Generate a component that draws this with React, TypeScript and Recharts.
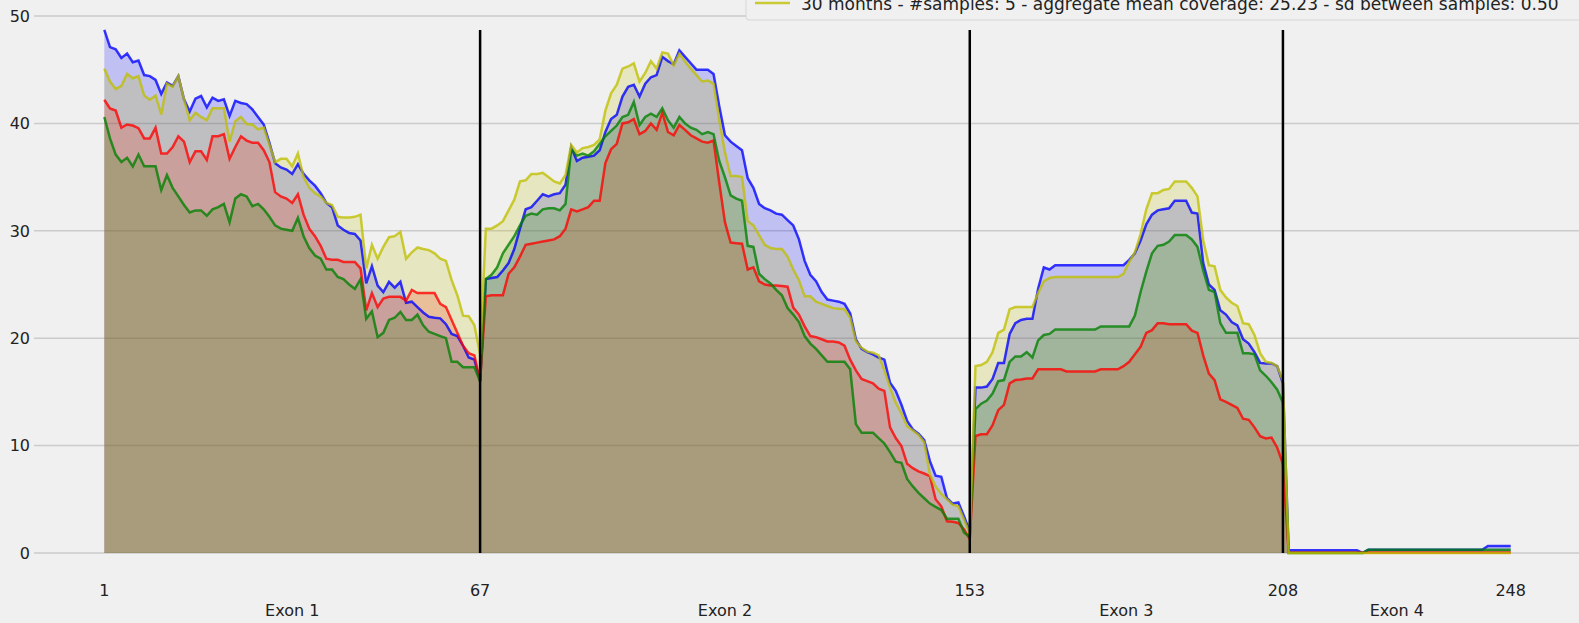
import React from "react";
import {
  Area,
  CartesianGrid,
  ComposedChart,
  Line,
  ReferenceLine,
  XAxis,
  YAxis,
} from "recharts";

// exon layout along the transcript
const exonBounds = [1, 67, 153, 208, 248];
const exonNames = ["Exon 1", "Exon 2", "Exon 3", "Exon 4"];
const yTicks = [0, 10, 20, 30, 40, 50];

const legendLabel =
  "30 months - #samples: 5 - aggregate mean coverage: 25.23 - sd between samples: 0.50";

// ---- blue ----
const blueExon1 = [
  48.7, 47.1, 46.9, 46.1, 46.5, 45.7, 45.85, 44.5, 44.4, 44.05,
  42.75, 43.8, 43.5, 44.4, 42.25, 41.1, 42.3, 42.55, 41.5, 42.4,
  42.1, 42.25, 40.7, 42.1, 41.9, 41.8, 41.3, 40.6, 39.9, 38.2,
  36.3, 35.9, 35.7, 35.3, 36.2, 35.3, 34.7, 34.2, 33.5, 32.6,
  32.2, 30.5, 30.1, 29.8, 29.7, 29.1, 25.1, 26.7, 24.9, 24.3,
  25.25, 24.7, 25.25, 23.3, 23.4, 22.9, 22.4, 22.0, 21.9, 21.85,
  21.3, 20.4, 20.2, 19.3, 18.2, 18.0, 16.0,
];
const blueExon2 = [
  25.5, 25.6, 25.7, 26.3, 27.0, 28.3, 30.2, 32.0, 32.2, 32.8,
  33.4, 33.2, 33.4, 33.5, 34.3, 37.8, 36.5, 36.8, 36.9, 37.0,
  37.5, 39.2, 40.4, 40.8, 42.5, 43.4, 43.6, 42.5, 43.7, 44.3,
  44.5, 46.2, 45.8, 45.5, 46.8, 46.2, 45.6, 45.0, 45.0, 45.0,
  44.6, 41.6, 38.9, 38.3, 37.9, 37.5, 34.9, 34.0, 32.5, 32.1,
  31.9, 31.6, 31.5, 31.0, 30.5, 29.2, 27.2, 25.9, 25.3, 24.3,
  23.6, 23.5, 23.4, 23.2, 22.3, 19.9, 19.0, 18.7, 18.5, 18.2,
  18.0, 15.85, 15.1, 13.8, 12.3, 11.5, 11.1, 10.5, 8.55, 7.2,
  7.1, 5.1, 4.6, 4.7, 3.4, 2.0,
];
const blueExon3 = [
  15.4, 15.4, 15.5, 16.2, 17.7, 17.7, 20.4, 21.4, 21.7, 21.8,
  21.8, 24.6, 26.6, 26.4, 26.8, 26.8, 26.8, 26.8, 26.8, 26.8,
  26.8, 26.8, 26.8, 26.8, 26.8, 26.8, 26.8, 27.3, 27.9, 29.1,
  30.6, 31.5, 31.9, 32.0, 32.1, 32.8, 32.8, 32.8, 31.7, 31.6,
  27.0, 25.0, 24.5, 22.6, 22.2, 21.5, 21.2, 19.9, 19.5, 18.7,
  17.7, 17.65, 17.65, 17.4, 15.8,
];
const blueExon4 = [
  0.25, 0.25, 0.25, 0.25, 0.25, 0.25, 0.25, 0.25, 0.25, 0.25,
  0.25, 0.25, 0.25, 0.02, 0.3, 0.3, 0.3, 0.3, 0.3, 0.3,
  0.3, 0.3, 0.3, 0.3, 0.3, 0.3, 0.3, 0.3, 0.3, 0.3,
  0.3, 0.3, 0.3, 0.3, 0.3, 0.65, 0.65, 0.65, 0.65, 0.65,
];

// ---- red ----
const redExon1 = [
  42.2, 41.4, 41.2, 39.6, 39.9, 39.8, 39.55, 38.6, 38.6, 39.6,
  37.2, 37.2, 37.8, 38.8, 38.3, 36.4, 37.4, 37.4, 36.6, 38.8,
  38.8, 39.0, 36.7, 37.8, 38.8, 38.4, 38.2, 38.2, 37.5, 36.4,
  33.6, 33.2, 33.0, 32.6, 33.4, 31.5, 30.2, 29.5, 28.6, 27.4,
  27.3, 27.3, 27.1, 27.1, 27.1, 26.5, 22.6, 24.2, 22.9, 23.7,
  23.85, 23.85, 23.85, 23.5, 24.5, 24.2, 24.2, 24.2, 24.2, 23.2,
  22.9, 21.7, 20.5, 19.3, 18.6, 18.4, 16.0,
];
const redExon2 = [
  23.9, 24.0, 24.0, 24.0, 26.0, 26.6, 27.6, 28.7, 28.8, 28.9,
  29.0, 29.1, 29.2, 29.5, 30.2, 32.0, 31.8, 32.0, 32.2, 32.8,
  32.8, 36.3, 37.6, 38.1, 40.0, 40.1, 40.4, 39.0, 39.3, 40.0,
  39.4, 41.0, 39.2, 38.9, 39.85, 39.4, 38.9, 38.6, 38.3, 38.2,
  38.4, 34.5, 30.8, 28.9, 28.85, 28.8, 26.4, 26.6, 25.3, 25.0,
  24.9, 24.9, 24.85, 24.8, 22.85, 22.2, 21.1, 20.2, 20.1, 19.9,
  19.7, 19.7, 19.6, 19.3, 18.0, 17.0, 16.2, 16.0, 15.8, 15.3,
  15.1, 11.7, 10.7, 9.95, 8.3, 7.9, 7.6, 7.4, 7.15, 5.0,
  4.35, 2.95, 2.9, 2.8, 2.2, 1.3,
];
const redExon3 = [
  10.9, 11.06, 11.06, 11.9, 13.3, 13.8, 15.8, 16.1, 16.15, 16.25,
  16.25, 17.1, 17.1, 17.1, 17.1, 17.1, 16.9, 16.9, 16.9, 16.9,
  16.9, 16.9, 17.1, 17.1, 17.1, 17.1, 17.4, 17.8, 18.5, 19.2,
  20.5, 20.75, 21.4, 21.4, 21.3, 21.3, 21.3, 21.3, 20.7, 20.5,
  18.4, 16.7, 16.1, 14.3, 14.07, 13.8, 13.5, 12.5, 12.4, 11.7,
  10.87, 10.66, 10.75, 9.8, 8.3,
];
const redExon4 = [
  0.05, 0.05, 0.05, 0.05, 0.05, 0.05, 0.05, 0.05, 0.05, 0.05,
  0.05, 0.05, 0.05, 0.05, 0.05, 0.05, 0.05, 0.05, 0.05, 0.05,
  0.05, 0.05, 0.05, 0.05, 0.05, 0.05, 0.05, 0.05, 0.05, 0.05,
  0.05, 0.05, 0.05, 0.05, 0.05, 0.05, 0.05, 0.05, 0.05, 0.05,
];

// ---- green ----
const greenExon1 = [
  40.6, 38.6, 37.1, 36.4, 36.8, 36.0, 37.1, 36.0, 36.0, 36.0,
  33.8, 35.2, 34.0, 33.2, 32.4, 31.7, 31.9, 31.9, 31.4, 32.0,
  32.2, 32.5, 30.8, 33.0, 33.4, 33.2, 32.3, 32.5, 32.0, 31.3,
  30.5, 30.2, 30.1, 30.0, 31.2, 29.5, 28.4, 27.7, 27.4, 26.4,
  26.4, 25.7, 25.5, 25.0, 24.6, 25.5, 21.8, 22.5, 20.1, 20.5,
  21.7, 21.9, 22.45, 21.7, 21.7, 22.2, 21.2, 20.6, 20.4, 20.2,
  20.0, 17.8, 17.8, 17.3, 17.3, 17.3, 16.0,
];
const greenExon2 = [
  25.5, 25.9, 26.6, 27.9, 28.7, 29.5, 30.5, 31.4, 31.6, 31.5,
  32.0, 32.1, 32.1, 31.9, 32.5, 37.6, 37.0, 37.2, 37.0, 37.4,
  38.1, 38.8, 39.3, 39.8, 40.6, 40.8, 42.0, 39.85, 40.6, 40.9,
  40.6, 41.4, 40.3, 39.6, 40.6, 40.0, 39.6, 39.4, 39.0, 39.2,
  39.0, 36.5, 35.0, 33.3, 33.0, 32.8, 28.6, 28.5, 26.0, 25.5,
  25.1, 24.5, 24.0, 22.8, 22.2, 21.5, 20.2, 19.5, 19.0, 18.4,
  17.8, 17.8, 17.8, 17.8, 17.1, 12.0, 11.2, 11.2, 11.2, 10.7,
  10.2, 9.4, 8.5, 8.4, 6.9, 6.2, 5.6, 5.1, 4.6, 4.3,
  4.0, 3.2, 3.2, 3.2, 1.9, 1.5,
];
const greenExon3 = [
  13.4, 13.9, 14.2, 14.85, 16.0, 16.1, 17.8, 18.3, 18.3, 18.7,
  18.2, 19.8, 20.3, 20.4, 20.8, 20.8, 20.8, 20.8, 20.8, 20.8,
  20.8, 20.8, 21.1, 21.1, 21.1, 21.1, 21.1, 21.1, 22.1, 24.3,
  26.2, 27.9, 28.6, 28.7, 29.0, 29.6, 29.6, 29.6, 29.2, 28.5,
  26.3, 24.5, 24.3, 21.4, 20.5, 20.5, 20.5, 18.6, 18.6, 18.5,
  17.0, 16.5, 15.9, 15.2, 14.0,
];
const greenExon4 = [
  0, 0, 0, 0, 0, 0, 0, 0, 0, 0,
  0, 0, 0, 0, 0.3, 0.3, 0.3, 0.3, 0.3, 0.3,
  0.3, 0.3, 0.3, 0.3, 0.3, 0.3, 0.3, 0.3, 0.3, 0.3,
  0.3, 0.3, 0.3, 0.3, 0.3, 0.3, 0.3, 0.3, 0.3, 0.3,
];

// ---- yellow (30 months) ----
const yellowExon1 = [
  45.1, 43.9, 43.2, 43.5, 44.6, 44.2, 44.4, 42.6, 42.2, 42.6,
  40.85, 43.7, 43.4, 44.4, 42.2, 40.3, 41.0, 40.6, 40.3, 41.4,
  41.4, 41.4, 38.3, 40.2, 40.6, 39.95, 39.9, 39.45, 39.6, 38.0,
  36.4, 36.7, 36.7, 36.0, 37.2, 35.0, 34.0, 33.5, 33.2, 32.6,
  32.4, 31.3, 31.25, 31.25, 31.3, 31.5, 26.5, 28.7, 27.4, 28.5,
  29.4, 29.5, 29.9, 27.4, 28.0, 28.45, 28.3, 28.2, 27.9, 27.4,
  27.2, 25.4, 24.0, 22.1, 22.05, 21.2, 18.5,
];
const yellowExon2 = [
  30.2, 30.2, 30.5, 30.9, 31.9, 32.9, 34.6, 34.7, 35.3, 35.3,
  35.4, 35.0, 34.6, 34.4, 35.2, 38.0, 37.3, 37.7, 37.8, 38.0,
  38.5, 41.2, 42.8, 43.6, 45.1, 45.3, 45.6, 43.9, 44.7, 45.8,
  45.1, 46.6, 46.5, 45.4, 46.5, 45.75, 45.1, 44.5, 43.9, 44.0,
  43.7, 40.3, 37.3, 35.1, 35.1, 35.0, 30.9, 30.5, 29.6, 28.7,
  28.4, 28.3, 28.3, 27.6, 26.4, 25.4, 23.9, 23.9, 23.4, 23.2,
  23.0, 22.8, 22.75, 22.7, 21.9, 19.7, 19.1, 18.75, 18.65, 18.4,
  17.0, 15.4, 14.0, 13.0, 11.8, 11.4, 11.0, 10.3, 7.3, 6.2,
  5.5, 5.0, 4.5, 4.35, 3.1, 1.8,
];
const yellowExon3 = [
  17.4, 17.5, 17.8, 18.7, 20.5, 20.8, 22.7, 22.9, 22.9, 22.9,
  22.9, 24.2, 25.3, 25.6, 25.7, 25.7, 25.7, 25.7, 25.7, 25.7,
  25.7, 25.7, 25.7, 25.7, 25.7, 25.7, 26.0, 27.1, 28.0, 29.7,
  32.0, 33.5, 33.5, 33.8, 33.9, 34.6, 34.6, 34.6, 34.0, 33.2,
  29.1, 26.8, 26.7, 24.5, 23.8, 23.3, 23.0, 21.4, 21.3, 20.3,
  18.6, 17.8, 17.7, 17.4, 16.0,
];
const yellowExon4 = [
  0, 0, 0, 0, 0, 0, 0, 0, 0, 0,
  0, 0, 0, 0, 0, 0, 0, 0, 0, 0,
  0, 0, 0, 0, 0, 0, 0, 0, 0, 0,
  0, 0, 0, 0, 0, 0, 0, 0, 0, 0,
];

const series = [
  { key: "blue", color: "#0000ff", values: [...blueExon1, ...blueExon2, ...blueExon3, ...blueExon4] },
  { key: "red", color: "#ff0000", values: [...redExon1, ...redExon2, ...redExon3, ...redExon4] },
  { key: "green", color: "#008000", values: [...greenExon1, ...greenExon2, ...greenExon3, ...greenExon4] },
  { key: "yellow", color: "#bfbf00", values: [...yellowExon1, ...yellowExon2, ...yellowExon3, ...yellowExon4] },
];

const positions = series[0].values.map((_, k) => exonBounds[0] + k);

const rows = positions.map((pos, k) => {
  const row: Record<string, number> = { pos };
  series.forEach((s) => {
    row[s.key] = s.values[k];
  });
  return row;
});

const exonMids = exonNames.map((_, i) => (exonBounds[i] + exonBounds[i + 1]) / 2);
const peak = Math.max(...series.flatMap((s) => s.values));

const FONT = "DejaVu Sans";
const W = 1581;
const H = 623;

function XTick(props: any) {
  const { x, payload } = props;
  const idx = exonMids.indexOf(payload.value);
  if (idx >= 0) {
    return (
      <text x={x} y={616} textAnchor="middle" fontFamily={FONT} fontSize={16} fill="#222">
        {exonNames[idx]}
      </text>
    );
  }
  return (
    <text x={x} y={596} textAnchor="middle" fontFamily={FONT} fontSize={16} fill="#222">
      {payload.value}
    </text>
  );
}

function YTick(props: any) {
  const { y, payload } = props;
  return (
    <text x={30} y={y} dy="0.36em" textAnchor="end" fontFamily={FONT} fontSize={16} fill="#222">
      {payload.value}
    </text>
  );
}

export default function App() {
  return (
    <div
      style={{
        position: "fixed",
        left: 0,
        top: 0,
        width: 1579,
        height: 623,
        overflow: "hidden",
        background: "#f0f0f0",
      }}
    >
      <ComposedChart
        width={W}
        height={H}
        data={rows}
        margin={{ top: 16, right: 0, bottom: 0, left: 0 }}
      >
        <CartesianGrid vertical={false} stroke="#cbcbcb" strokeWidth={1.5} />
        <XAxis
          dataKey="pos"
          type="number"
          domain={[-11.35, 260.35]}
          allowDataOverflow
          ticks={[...exonBounds, ...exonMids]}
          interval={0}
          axisLine={false}
          tickLine={false}
          height={70}
          tick={<XTick />}
        />
        <YAxis
          type="number"
          domain={[0, 50]}
          ticks={yTicks}
          width={34}
          axisLine={false}
          tickLine={false}
          tick={<YTick />}
        />
        {series.map((s) => (
          <Area
            key={`${s.key}-fill`}
            dataKey={s.key}
            type="linear"
            stroke="none"
            fill={s.color}
            fillOpacity={0.2}
            dot={false}
            activeDot={false}
            isAnimationActive={false}
          />
        ))}
        {series.map((s) => (
          <Line
            key={`${s.key}-line`}
            dataKey={s.key}
            type="linear"
            stroke={s.color}
            strokeOpacity={0.78}
            strokeWidth={2.5}
            dot={false}
            activeDot={false}
            isAnimationActive={false}
          />
        ))}
        {exonBounds.slice(1, -1).map((b) => (
          <ReferenceLine
            key={b}
            segment={[
              { x: b, y: 0 },
              { x: b, y: peak },
            ]}
            stroke="#000"
            strokeWidth={2.5}
            ifOverflow="visible"
          />
        ))}
      </ComposedChart>
      <svg
        width={1579}
        height={40}
        style={{ position: "absolute", left: 0, top: 0 }}
      >
        <rect x={746} y={-60} width={900} height={80} rx={3} fill="#f0f0f0" stroke="#d6d6d6" strokeWidth={1} />
        <line x1={755} y1={3} x2={790} y2={3} stroke="#bfbf00" strokeOpacity={0.78} strokeWidth={2.5} />
        <text x={801} y={10} fontFamily={FONT} fontSize={17} fill="#222">
          {legendLabel}
        </text>
      </svg>
    </div>
  );
}
